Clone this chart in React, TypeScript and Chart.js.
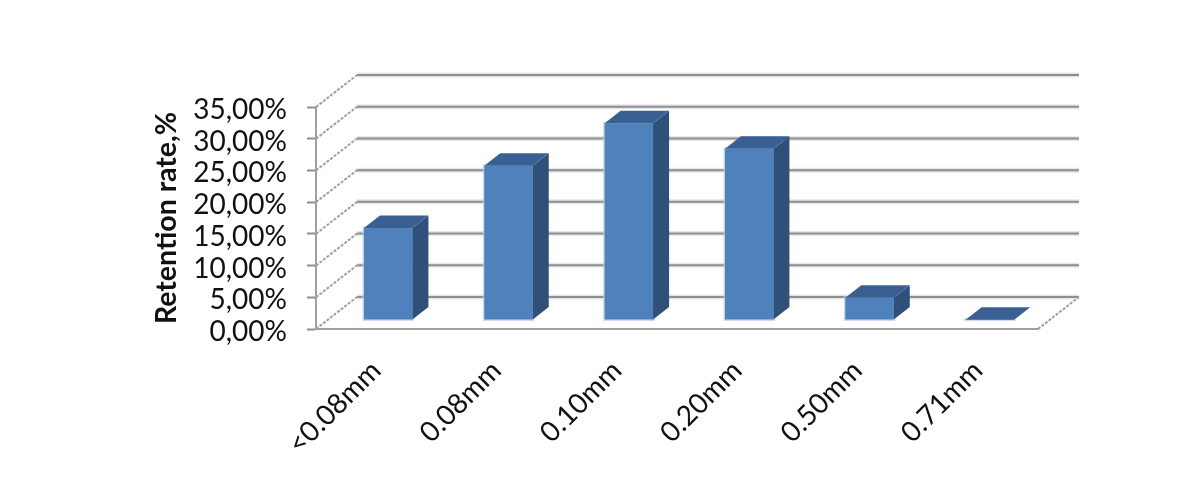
import { useEffect, useRef } from "react";
import { Chart, registerables } from "chart.js";
Chart.register(...registerables);

const SIZES = ["<0.08mm", "0.08mm", "0.10mm", "0.20mm", "0.50mm", "0.71mm"];
const RETENTION = [14.5, 24.3, 31, 27, 3.5, 0.05];
const FONT = "Lato, sans-serif";

// floor / wall depth, and how far the bars sit inside it
const WALL_DX = 41, WALL_DY = -32;
const BAR_X = 12, BAR_Y = -9;
const BAR_DX = 16, BAR_DY = -12.5;

const poly = (ctx: CanvasRenderingContext2D, pts: number[][], fill: string) => {
  ctx.beginPath();
  pts.forEach(([x, y], i) => (i ? ctx.lineTo(x, y) : ctx.moveTo(x, y)));
  ctx.closePath();
  ctx.fillStyle = fill;
  ctx.fill();
};

const line = (ctx: CanvasRenderingContext2D, x1: number, y1: number, x2: number, y2: number) => {
  ctx.beginPath();
  ctx.moveTo(x1, y1);
  ctx.lineTo(x2, y2);
  ctx.stroke();
};

const box3d = {
  id: "box3d",
  afterUpdate(chart: any) {
    // y labels sit a little below their ticks in the original
    chart.scales.y.getLabelItems().forEach((item: any) => {
      item.options.translation[1] += 3;
    });
  },
  beforeDatasetsDraw(chart: any) {
    const { ctx, chartArea: a, scales } = chart;
    ctx.save();
    // walls: one diagonal and one back line per tick
    scales.y.ticks.forEach((t: any) => {
      const y = scales.y.getPixelForValue(t.value);
      ctx.setLineDash([]);
      ctx.strokeStyle = "#e6e6e6";
      ctx.lineWidth = 5;
      line(ctx, a.left + WALL_DX, y + WALL_DY, a.right + WALL_DX, y + WALL_DY);
      ctx.strokeStyle = "#8e8e8e";
      ctx.lineWidth = 2;
      line(ctx, a.left + WALL_DX, y + WALL_DY, a.right + WALL_DX, y + WALL_DY);
      ctx.setLineDash([3, 1.5]);
      ctx.strokeStyle = "#a0a0a0";
      line(ctx, a.left, y, a.left + WALL_DX, y + WALL_DY);
    });
    ctx.strokeStyle = "#a0a0a0";
    line(ctx, a.right, a.bottom, a.right + WALL_DX, a.bottom + WALL_DY);
    ctx.restore();
    // bars are shifted into the floor until afterDatasetsDraw
    ctx.save();
    ctx.translate(BAR_X, BAR_Y);
    chart.getDatasetMeta(0).data.forEach((b: any) => {
      const l = b.x - b.width / 2;
      const r = b.x + b.width / 2;
      ctx.strokeStyle = "rgba(185,205,230,0.7)";
      ctx.lineWidth = 3;
      ctx.strokeRect(l, b.y, r - l, b.base - b.y);
    });
  },
  afterDatasetsDraw(chart: any) {
    const { ctx } = chart;
    chart.getDatasetMeta(0).data.forEach((b: any) => {
      const l = b.x - b.width / 2;
      const r = b.x + b.width / 2;
      poly(ctx, [[r, b.y], [r + BAR_DX, b.y + BAR_DY], [r + BAR_DX, b.base + BAR_DY], [r, b.base]], "#2f5079");
      poly(ctx, [[l, b.y], [l + BAR_DX, b.y + BAR_DY], [r + BAR_DX, b.y + BAR_DY], [r, b.y]], "#3a6093");
    });
    ctx.restore();
  },
};

export default function App() {
  const canvasRef = useRef<HTMLCanvasElement>(null);

  useEffect(() => {
    if (!canvasRef.current) return;
    const chart = new Chart(canvasRef.current, {
      type: "bar",
      data: {
        labels: SIZES,
        datasets: [{
          data: RETENTION,
          backgroundColor: "#4f81bd",
          barPercentage: 0.403,
          categoryPercentage: 1,
          clip: false,
        }],
      },
      options: {
        responsive: false,
        animation: false,
        devicePixelRatio: 1,
        layout: { padding: { left: 150, top: 107, right: 162, bottom: 20 } },
        plugins: { legend: { display: false }, tooltip: { enabled: false } },
        scales: {
          x: {
            afterFit: (s: any) => { s.height = 151; },
            grid: { display: false },
            border: { color: "#a0a0a0", width: 2 },
            ticks: {
              color: "#111",
              font: { family: FONT, size: 28 },
              minRotation: 45, maxRotation: 45, autoSkip: false, padding: 17,
            },
          },
          y: {
            min: 0, max: 35,
            afterFit: (s: any) => { s.width = 166; },
            border: { color: "#a0a0a0", width: 2 },
            grid: { drawOnChartArea: false, tickLength: 9, tickColor: "#8e8e8e", tickWidth: 2 },
            title: {
              display: true,
              text: "Retention rate,%",
              color: "#111",
              font: { family: FONT, size: 28.5, weight: "bold" },
              padding: 0,
            },
            ticks: {
              stepSize: 5,
              autoSkip: false,
              color: "#111",
              padding: 20,
              font: { family: FONT, size: 28 },
              callback: (v: any) => Number(v).toFixed(2).replace(".", ",") + "%",
            },
          },
        },
      },
      plugins: [box3d],
    } as any);
    return () => chart.destroy();
  }, []);

  return (
    <div style={{ position: "absolute", left: 0, top: 0, width: 1200, height: 500, background: "#fff" }}>
      <canvas ref={canvasRef} width={1200} height={500} style={{ display: "block" }} />
    </div>
  );
}
